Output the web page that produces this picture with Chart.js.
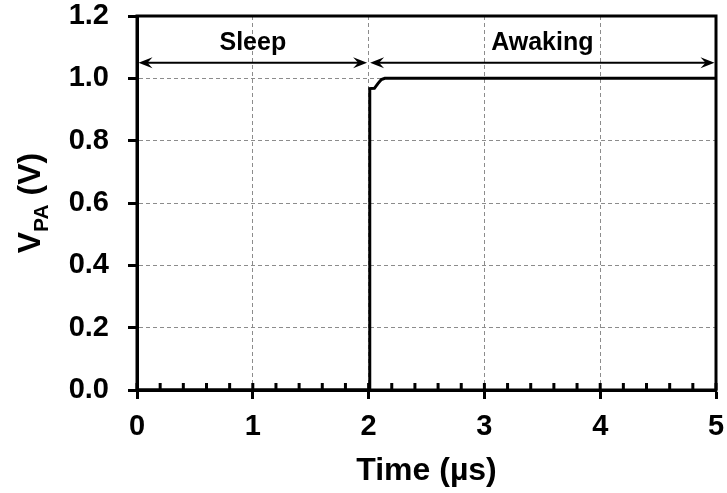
<!DOCTYPE html>
<html>
<head>
<meta charset="utf-8">
<script src="https://cdn.jsdelivr.net/npm/chart.js@4/dist/chart.umd.min.js"></script>
<style>
  html, body { margin: 0; padding: 0; background: #fff; }
  #wrap { width: 727px; height: 493px; }
</style>
</head>
<body>
<div id="wrap"><canvas id="c" width="727" height="493"></canvas></div>
<script>
// Supply voltage of the PA during wake-up
const timeUs = [0, 2.01, 2.01, 2.05, 2.08, 2.11, 2.14, 5];
const vpa    = [0, 0, 0.967, 0.968, 0.983, 0.996, 1.0, 1.0];

// Phase annotations drawn above the trace
const phaseNames = ['Sleep', 'Awaking'];
const phaseStart = [0, 2];
const phaseEnd   = [2, 5];
const phaseArrowV = 1.05;
const phaseLabelV = 1.09;

const yTickValues = [0, 0.2, 0.4, 0.6, 0.8, 1.0, 1.2];
const xMinorStep = 0.2;

const FONT = "'Liberation Sans', Arial, sans-serif";

// Frame, inward tick marks, arrows and the subscripted y title
const decorPlugin = {
  id: 'decor',
  afterDatasetsDraw(chart) {
    const { ctx, chartArea: a, scales: { x, y } } = chart;
    ctx.save();

    // inward tick marks on the time axis (minor every 0.2 µs)
    ctx.strokeStyle = '#000';
    ctx.lineWidth = 3;
    for (let i = 0; i <= Math.round((x.max - x.min) / xMinorStep); i++) {
      const px = x.getPixelForValue(x.min + i * xMinorStep);
      ctx.beginPath();
      ctx.moveTo(px, a.bottom);
      ctx.lineTo(px, a.bottom - 7);
      ctx.stroke();
    }

    // frame
    ctx.lineWidth = 3;
    ctx.strokeRect(a.left, a.top, a.right - a.left, a.bottom - a.top);

    // double-headed phase arrows
    const head = (tipX, tipY, dir) => {
      ctx.beginPath();
      ctx.moveTo(tipX, tipY);
      ctx.lineTo(tipX - dir * 14, tipY - 5.5);
      ctx.lineTo(tipX - dir * 9, tipY);
      ctx.lineTo(tipX - dir * 14, tipY + 5.5);
      ctx.closePath();
      ctx.fill();
    };
    ctx.fillStyle = '#000';
    ctx.lineWidth = 2;
    const ay = y.getPixelForValue(phaseArrowV);
    for (let i = 0; i < phaseNames.length; i++) {
      const x0 = x.getPixelForValue(phaseStart[i]) + 1.5;
      const x1 = x.getPixelForValue(phaseEnd[i]) - 1.5;
      ctx.beginPath();
      ctx.moveTo(x0 + 8, ay);
      ctx.lineTo(x1 - 8, ay);
      ctx.stroke();
      head(x0, ay, -1);
      head(x1, ay, 1);

      ctx.font = 'bold 25px ' + FONT;
      ctx.textAlign = 'center';
      ctx.textBaseline = 'alphabetic';
      const cx = x.getPixelForValue((phaseStart[i] + phaseEnd[i]) / 2);
      ctx.fillText(phaseNames[i], cx, y.getPixelForValue(phaseLabelV));
    }

    // y-axis title with subscript: V_PA (V)
    const big = 'bold 32px ' + FONT;
    const small = 'bold 21px ' + FONT;
    ctx.font = big;
    const wV = ctx.measureText('V').width;
    const wRest = ctx.measureText(' (V)').width;
    ctx.font = small;
    const wSub = ctx.measureText('PA').width;
    const total = wV + wSub + wRest;
    ctx.translate(40, (a.top + a.bottom) / 2);
    ctx.rotate(-Math.PI / 2);
    ctx.textAlign = 'left';
    ctx.textBaseline = 'alphabetic';
    let pos = -total / 2;
    ctx.font = big;
    ctx.fillText('V', pos, 0);
    pos += wV;
    ctx.font = small;
    ctx.fillText('PA', pos, 8);
    pos += wSub;
    ctx.font = big;
    ctx.fillText(' (V)', pos, 0);

    ctx.restore();
  }
};

new Chart(document.getElementById('c'), {
  type: 'line',
  data: {
    datasets: [{
      data: timeUs.map((t, i) => ({ x: t, y: vpa[i] })),
      borderColor: '#000',
      borderWidth: 3,
      pointRadius: 0,
      tension: 0,
      fill: false
    }]
  },
  options: {
    responsive: false,
    animation: false,
    devicePixelRatio: 1,
    layout: { padding: { top: 16, right: 11, left: 0, bottom: 0 } },
    plugins: { legend: { display: false }, tooltip: { enabled: false } },
    scales: {
      x: {
        type: 'linear',
        min: 0,
        max: 5,
        afterFit(s) { s.height = 103; s.paddingLeft = 0; s.paddingRight = 0; },
        ticks: {
          stepSize: 1,
          color: '#000',
          padding: 11,
          maxRotation: 0,
          font: { family: FONT, size: 29, weight: 'bold' }
        },
        grid: {
          color: '#8c8c8c',
          lineWidth: 1,
          drawTicks: true,
          tickLength: 9,
          tickColor: '#000',
          tickWidth: 3
        },
        border: { display: true, color: '#000', width: 3, dash: [4, 3] },
        title: {
          display: true,
          text: 'Time (µs)',
          color: '#000',
          font: { family: FONT, size: 32, weight: 'bold' },
          padding: { top: 0, bottom: 3 }
        }
      },
      y: {
        type: 'linear',
        min: 0,
        max: 1.2,
        afterFit(s) { s.width = 137; s.paddingTop = 0; s.paddingBottom = 0; },
        afterBuildTicks(s) { s.ticks = yTickValues.map(v => ({ value: v })); },
        ticks: {
          color: '#000',
          padding: 19,
          font: { family: FONT, size: 29, weight: 'bold' },
          callback: v => Number(v).toFixed(1)
        },
        grid: {
          color: '#8c8c8c',
          lineWidth: 1,
          drawTicks: true,
          tickLength: 9,
          tickColor: '#000',
          tickWidth: 3
        },
        border: { display: true, color: '#000', width: 3, dash: [4, 3] }
      }
    }
  },
  plugins: [decorPlugin]
});
</script>
</body>
</html>
